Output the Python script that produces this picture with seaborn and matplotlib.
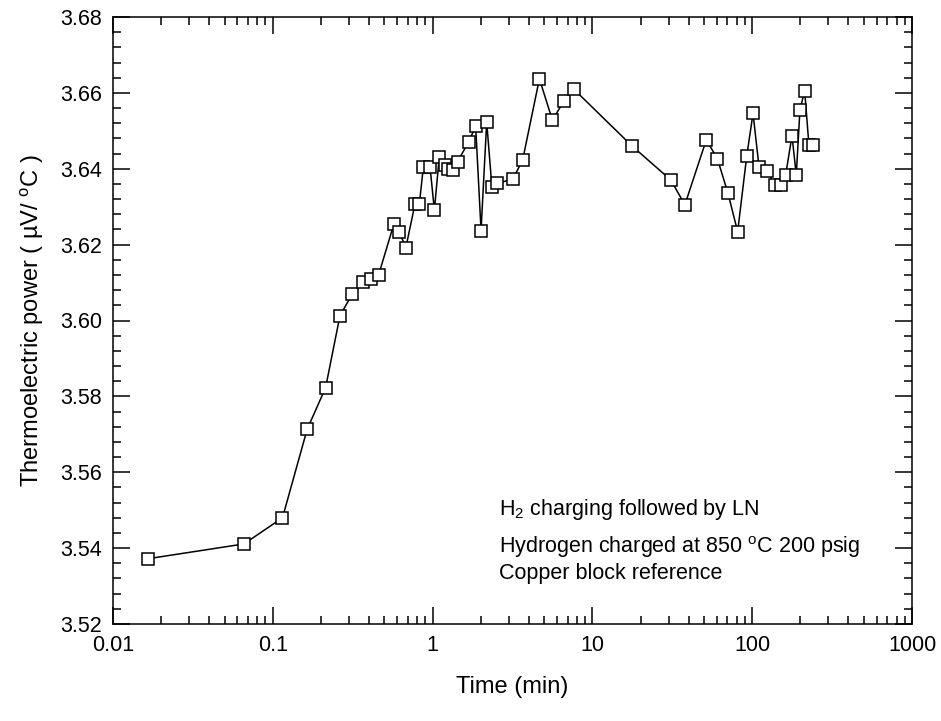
import matplotlib
matplotlib.use("Agg")
import matplotlib.pyplot as plt
import seaborn as sns
import numpy as np
import pandas as pd
from matplotlib.ticker import FixedLocator, LogLocator, NullFormatter, MultipleLocator, FormatStrFormatter

# ---- data ----
time_min = [0.0165, 0.066, 0.115, 0.164, 0.214, 0.263, 0.315, 0.366, 0.414, 0.460,
            0.573, 0.619, 0.68, 0.776, 0.826, 0.875, 0.964, 1.026, 1.10, 1.196,
            1.243, 1.347, 1.435, 1.68, 1.86, 2.01, 2.18, 2.35, 2.52, 3.17,
            3.66, 4.66, 5.62, 6.64, 7.64, 17.6, 31.0, 37.9, 51.6, 60.5,
            70.6, 81.1, 92.4, 101.2, 110.4, 124.4, 139.0, 151.5, 162.0, 177.4,
            188.7, 199.0, 213.0, 226.5, 240.0]
tep = [3.5372, 3.5411, 3.5480, 3.5713, 3.5823, 3.6012, 3.6071, 3.6101, 3.6109, 3.6121,
       3.6255, 3.6233, 3.6192, 3.6307, 3.6307, 3.6404, 3.6404, 3.6291, 3.6430, 3.6410,
       3.6400, 3.6397, 3.6419, 3.6471, 3.6512, 3.6237, 3.6523, 3.6353, 3.6362, 3.6372,
       3.6423, 3.6637, 3.6528, 3.6579, 3.6610, 3.6461, 3.6370, 3.6305, 3.6476, 3.6427,
       3.6335, 3.6234, 3.6433, 3.6546, 3.6404, 3.6393, 3.6356, 3.6356, 3.6384, 3.6487,
       3.6384, 3.6556, 3.6605, 3.6462, 3.6462]

x_ticks = [0.01, 0.1, 1, 10, 100, 1000]
x_tick_labels = ["0.01", "0.1", "1", "10", "100", "1000"]
y_ticks = [3.52, 3.54, 3.56, 3.58, 3.60, 3.62, 3.64, 3.66, 3.68]

annotation_lines = [r"H$_{2}$ charging followed by LN",
                    r"Hydrogen charged at 850 $^{\rm o}$C 200 psig",
                    "Copper block reference"]

sns.set_theme(style="ticks")
plt.rcParams["font.family"] = ["Liberation Sans", "DejaVu Sans"]
plt.rcParams["mathtext.fontset"] = "custom"
plt.rcParams["mathtext.rm"] = "Liberation Sans"
plt.rcParams["mathtext.it"] = "Liberation Sans:italic"
plt.rcParams["mathtext.bf"] = "Liberation Sans:bold"
plt.rcParams["text.color"] = "black"
plt.rcParams["axes.labelcolor"] = "black"

df = pd.DataFrame({"Time": time_min, "TEP": tep})

fig = plt.figure(figsize=(9.41, 7.21), dpi=100)
ax = fig.add_axes([113/941, 1 - 624/721, (912-113)/941, (624-17)/721])

sns.lineplot(data=df, x="Time", y="TEP", ax=ax, estimator=None, sort=True,
             color="black", linewidth=1.1, marker="s", markersize=8.5,
             markerfacecolor="white", markeredgecolor="black", markeredgewidth=1.1)

ax.set_xscale("log")
ax.set_xlim(0.01, 1000)
ax.set_ylim(3.52, 3.68)

ax.xaxis.set_major_locator(FixedLocator(x_ticks))
ax.set_xticklabels(x_tick_labels)
ax.xaxis.set_minor_locator(LogLocator(base=10, subs=np.arange(2, 10), numticks=20))
ax.xaxis.set_minor_formatter(NullFormatter())
ax.yaxis.set_major_locator(FixedLocator(y_ticks))
ax.yaxis.set_major_formatter(FormatStrFormatter("%.2f"))
ax.yaxis.set_minor_locator(MultipleLocator(0.004))

for s in ax.spines.values():
    s.set_visible(True)
    s.set_linewidth(1.1)
    s.set_color("black")

ax.tick_params(which="both", direction="in", top=True, right=True, colors="black",
               width=1.1, labelsize=15.5)
ax.tick_params(which="major", length=12, pad=8)
ax.tick_params(which="minor", length=6)

ax.set_xlabel("Time (min)", fontsize=17, labelpad=14, color="black")
ax.set_ylabel("Thermoelectric power ( \u00b5V/ $^{\\rm o}$C )", fontsize=17, labelpad=10,
              color="black")

ys = [0.188, 0.127, 0.0835]
for line, yy in zip(annotation_lines, ys):
    ax.text(0.483, yy, line, transform=ax.transAxes, fontsize=15.5,
            ha="left", va="center", color="black")

ax.set_facecolor("white")
fig.patch.set_facecolor("white")
fig.savefig("out.png", dpi=100)
